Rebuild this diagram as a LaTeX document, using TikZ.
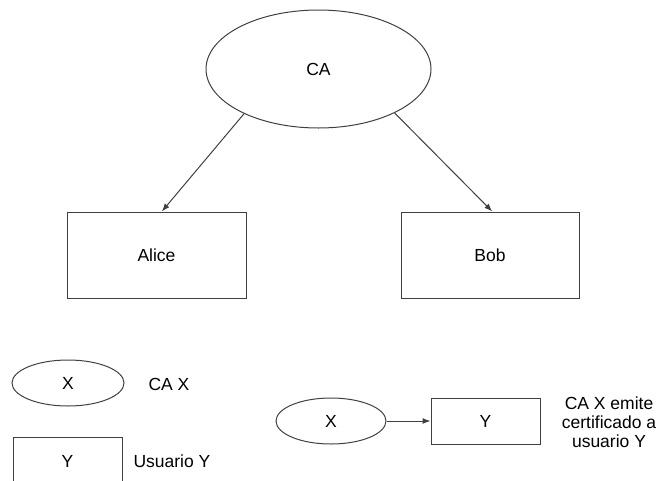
\documentclass[tikz,border=0pt]{standalone}
\usepackage{fontspec}
\setmainfont{Liberation Sans}
\usetikzlibrary{shapes.geometric,arrows.meta}

\begin{document}
\begin{tikzpicture}[x=1pt,y=-1pt,
	ca/.style={draw=black!75, line width=1pt, ellipse, inner sep=0pt},
	user/.style={draw=black!75, line width=1pt, rectangle, inner sep=0pt},
	issue/.style={draw=black!75, line width=1pt, -{Latex[length=8pt,width=6pt]}},
	every node/.append style={font=\fontsize{17.5}{19}\selectfont}]

	\useasboundingbox (0,0) rectangle (662,480);

	% CA and its two users
	\node[ca, minimum width=225pt, minimum height=118pt] (ca) at (318.5,69) {CA};

	\node[user, minimum width=179pt, minimum height=86pt] (alice) at (156.5,255) {Alice};
	\node[user, minimum width=178pt, minimum height=86pt] (bob) at (490,255) {Bob};

	\draw [issue] (ca.211) -- (alice.83);
	\draw [issue] (ca.330) -- (bob.87);

	% legend
	\node[ca, minimum width=112pt, minimum height=46pt] (legX) at (68,383) {X};
	\node[right] (legXtext) at (145,384) {CA X};

	\node[user, minimum width=109pt, minimum height=48pt] (legY) at (67.5,461) {Y};
	\node[right] (legYtext) at (130,461) {Usuario Y};

	\node[ca, minimum width=110pt, minimum height=46pt] (x) at (331,421) {X};
	\node[user, minimum width=109pt, minimum height=46pt] (y) at (485.5,421) {Y};
	\draw [issue] (x) -- (y);

	\node[align=center] (issuetext) at (609,422) {CA X emite\\certificado a\\usuario Y};
\end{tikzpicture}
\end{document}
